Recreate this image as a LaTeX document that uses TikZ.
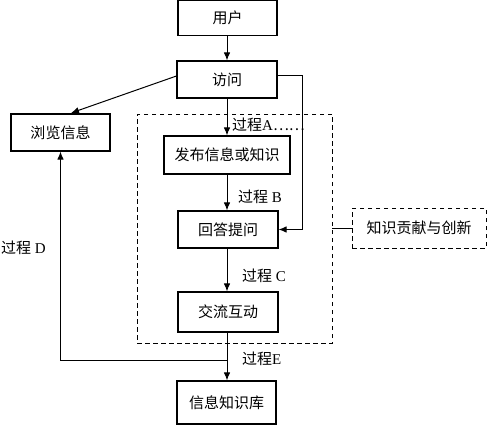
\documentclass[tikz,border=0pt]{standalone}
\usepackage{fontspec}
\setmainfont{Liberation Serif}
\newfontfamily\cjk{Noto Sans CJK SC}
\usetikzlibrary{arrows.meta,calc}
\begin{document}
\begin{tikzpicture}[x=1pt,y=-1pt,
  box/.style={draw,line width=1.1pt,inner sep=0pt,font=\cjk\fontsize{15}{17}\selectfont},
  dbox/.style={box,line width=0.9pt,dash pattern=on 4.5pt off 3.5pt},
  arr/.style={line width=1pt,-{Latex[length=8pt,width=6.5pt]}},
  ln/.style={line width=1pt},
  lab/.style={anchor=west,inner sep=0pt,font=\fontsize{15}{17}\selectfont}]
\useasboundingbox (0,0) rectangle (487,425);
\node[box,minimum width=99pt,minimum height=35pt] (user) at (227.5,18) {用户};
\node[box,minimum width=100pt,minimum height=37pt] (visit) at (227,79.5) {访问};
\node[box,minimum width=99pt,minimum height=37pt] (browse) at (60.5,132.5) {浏览信息};
\node[dbox,minimum width=195pt,minimum height=229pt] (grp) at (234.5,228.5) {};
\node[box,minimum width=126pt,minimum height=38pt] (pub) at (227,155) {发布信息或知识};
\node[box,minimum width=100pt,minimum height=37pt] (ans) at (228,229.5) {回答提问};
\node[box,minimum width=100pt,minimum height=40pt] (inter) at (228,312) {交流互动};
\node[box,minimum width=99pt,minimum height=43pt] (kb) at (226.5,402.5) {信息知识库};
\node[dbox,minimum width=134pt,minimum height=40pt] (contrib) at (419,228) {知识贡献与创新};
\coordinate (r1) at (302,76);
\coordinate (jn) at (227,360);
\coordinate (bt) at (71,113);
\draw[arr] (user.south -| 227,0) -- (visit.north -| 227,0);
\draw[arr] (visit.west |- 0,76) -- (bt);
\draw[arr] (visit.south -| 227,0) -- (pub.north -| 227,0);
\draw[arr] (visit.east |- r1) -- (r1) -- (r1 |- ans.east) -- (ans.east);
\draw[arr] (pub.south -| 227,0) -- (ans.north -| 227,0);
\draw[arr] (ans.south -| 227,0) -- (inter.north -| 227,0);
\draw[arr] (inter.south -| 227,0) -- (kb.north -| 227,0);
\draw[arr] (jn) -| (browse.south);
\draw[ln] (grp.east |- contrib.west) -- (contrib.west);
\node[lab] (la) at (232,125) {{\cjk 过程}A{\cjk ……}};
\node[lab] (lb) at (238,197) {{\cjk 过程} B};
\node[lab] (lc) at (242,276) {{\cjk 过程} C};
\node[lab] (le) at (242,359) {{\cjk 过程}E};
\node[lab] (ld) at (1,248) {{\cjk 过程} D};
\end{tikzpicture}
\end{document}
